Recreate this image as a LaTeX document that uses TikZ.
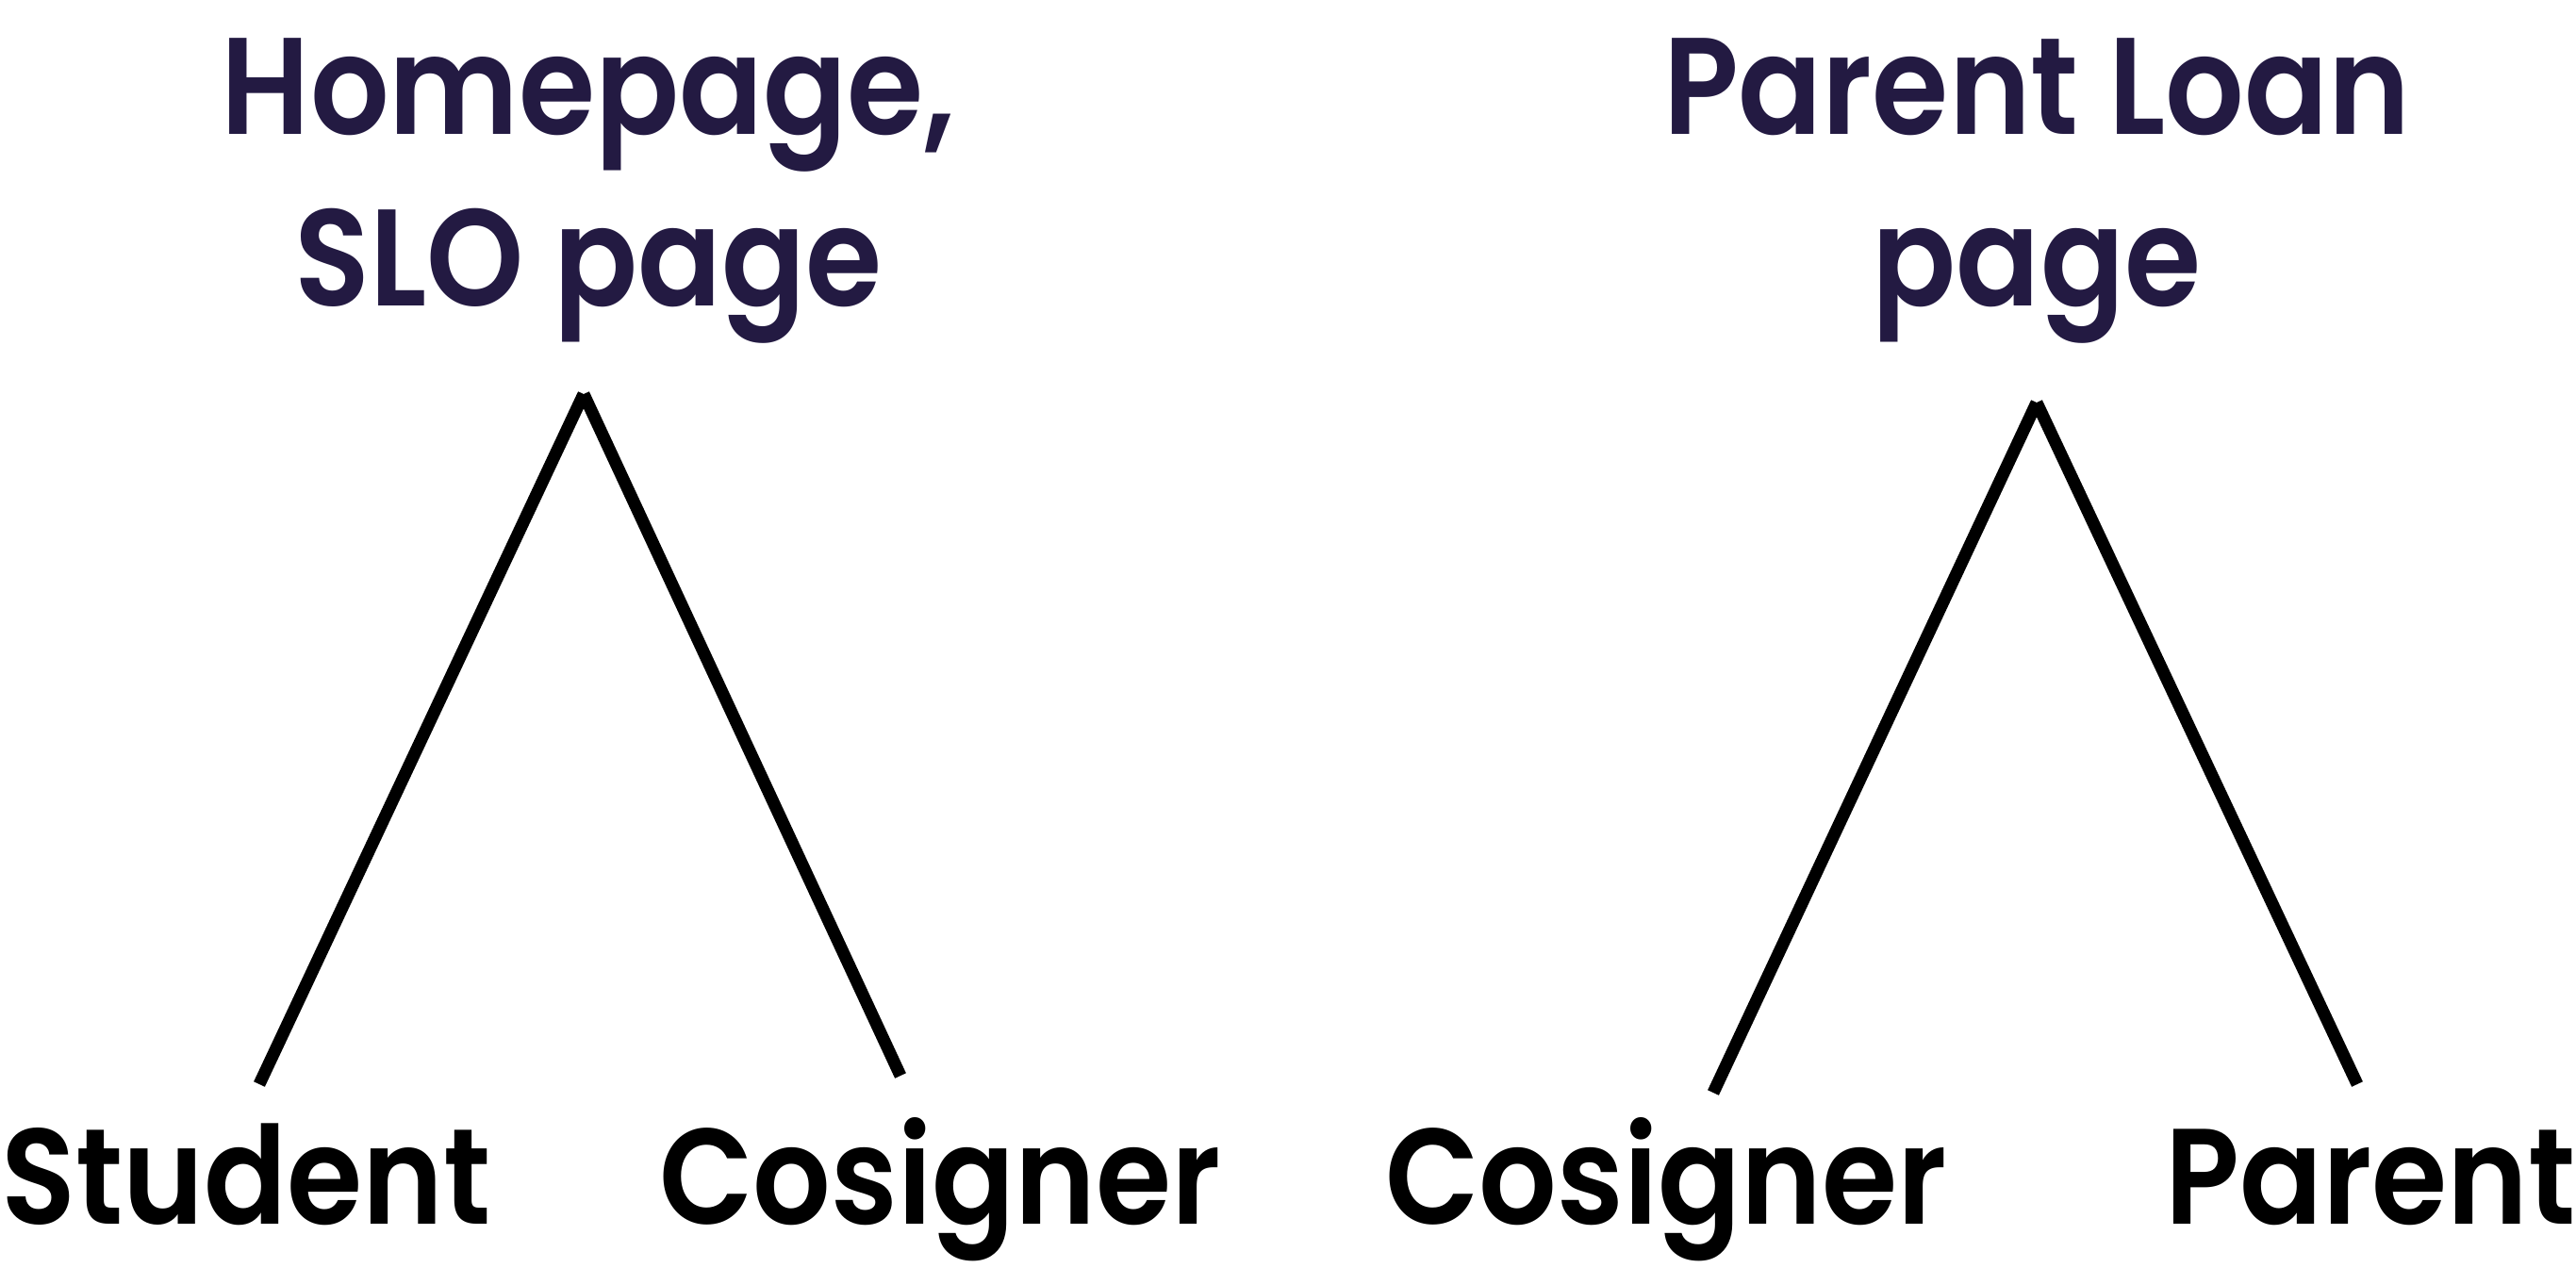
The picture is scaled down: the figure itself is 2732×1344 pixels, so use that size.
\documentclass[tikz,border=0pt]{standalone}
\usepackage{fontspec}
\IfFontExistsTF{Poppins SemiBold}
  {\setmainfont{Poppins SemiBold}[FakeStretch=0.9]\newcommand{\heavy}{}}
  {\setmainfont{Poppins}[FakeStretch=0.88]\newcommand{\heavy}{\bfseries}}
\usepackage{xcolor}
\usetikzlibrary{positioning}
\definecolor{titlenavy}{RGB}{35,26,66}

\begin{document}
\begin{tikzpicture}[x=0.01cm, y=-0.01cm,
  title/.style={font=\fontsize{41.5}{51.5}\selectfont\heavy, text=titlenavy, align=center, anchor=base, inner sep=0pt},
  who/.style={font=\fontsize{41}{50}\selectfont\heavy, text=black, anchor=base, inner sep=0pt},
  leg/.style={line width=3.7pt, black},
]
\useasboundingbox (0,0) rectangle (2732,1344);
\node[title] (slo) at (624,324) {Homepage,\\ SLO page};
\node[title] (parloan) at (2160,324) {Parent Loan\\ page};
\node[who] (stu) at (261,1298) {Student};
\node[who] (cosL) at (997,1298) {Cosigner};
\node[who] (cosR) at (1767,1298) {Cosigner};
\node[who] (par) at (2514,1298) {Parent};
% apex and ends of the legs
\coordinate (topL) at (619,418);
\coordinate (topR) at (2160,427);
\coordinate (endStu) at (275,1150);
\coordinate (endCosL) at (955,1141);
\coordinate (endCosR) at (1817,1159);
\coordinate (endPar) at (2500,1150);
\draw[leg] (topL) -- (endStu);
\draw[leg] (topL) -- (endCosL);
\draw[leg] (topR) -- (endCosR);
\draw[leg] (topR) -- (endPar);
\end{tikzpicture}
\end{document}
